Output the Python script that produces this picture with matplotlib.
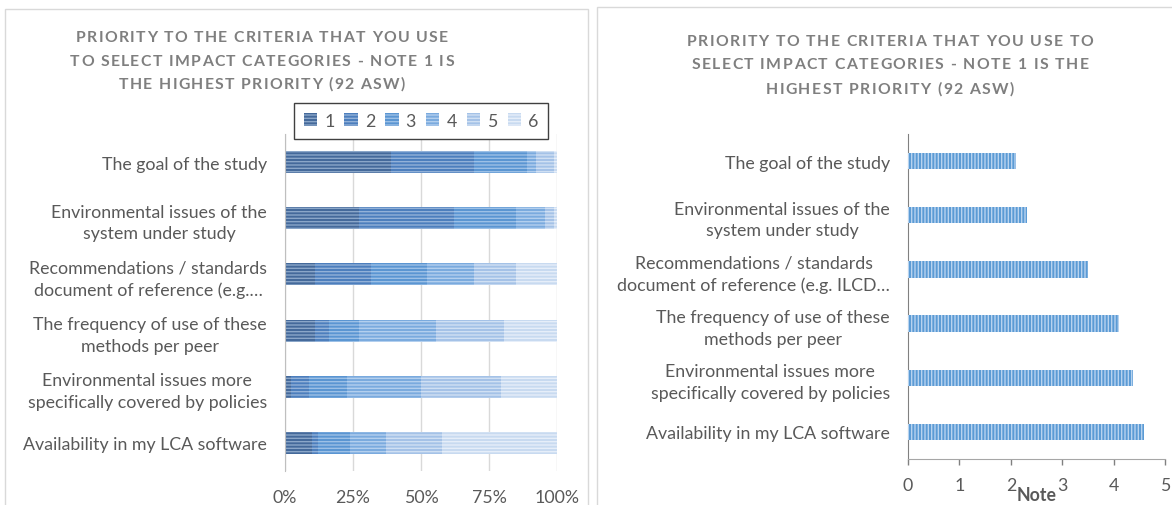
import matplotlib
matplotlib.use("Agg")
import matplotlib.pyplot as plt
from matplotlib.patches import Rectangle, Patch
from matplotlib.font_manager import FontProperties
import numpy as np

plt.rcParams['font.family'] = ['Lato', 'DejaVu Sans']
plt.rcParams['hatch.linewidth'] = 1.0

# ---------------- data ----------------
title_left = ["PRIORITY TO THE CRITERIA THAT YOU USE",
              "TO SELECT IMPACT CATEGORIES - NOTE 1 IS",
              "THE HIGHEST PRIORITY (92 ASW)"]
title_right = ["PRIORITY TO THE CRITERIA THAT YOU USE TO",
               "SELECT IMPACT CATEGORIES - NOTE 1 IS THE",
               "HIGHEST PRIORITY (92 ASW)"]

categories_left = ["The goal of the study",
                   "Environmental issues of the\nsystem under study",
                   "Recommendations / standards\ndocument of reference (e.g.…",
                   "The frequency of use of these\nmethods per peer",
                   "Environmental issues more\nspecifically covered by policies",
                   "Availability in my LCA software"]
categories_right = ["The goal of the study",
                    "Environmental issues of the\nsystem under study",
                    "Recommendations / standards\ndocument of reference (e.g. ILCD…",
                    "The frequency of use of these\nmethods per peer",
                    "Environmental issues more\nspecifically covered by policies",
                    "Availability in my LCA software"]

priority_labels = ["1", "2", "3", "4", "5", "6"]
# number of answers per priority note (out of 92), one list per note
note1 = [36, 25, 10, 10, 2, 9]
note2 = [28, 32, 19, 5, 6, 2]
note3 = [18, 21, 19, 10, 13, 11]
note4 = [3, 10, 16, 26, 25, 12]
note5 = [6, 3, 14, 23, 27, 19]
note6 = [1, 1, 14, 18, 19, 39]

mean_note = [2.11, 2.32, 3.51, 4.10, 4.37, 4.60]

pct_ticks = [0, 25, 50, 75, 100]
pct_tick_labels = ["0%", "25%", "50%", "75%", "100%"]
note_ticks = [0, 1, 2, 3, 4, 5]
xlabel_right = "Note"

# ---------------- styling ----------------
W, H = 1172, 506
fig = plt.figure(figsize=(W / 100, H / 100), dpi=100)

def fx(px):
    return px / W

def fy(py):
    return 1 - py / H

face_cols = ['#44699a', '#4c7ebd', '#5a95d2', '#7aaade', '#a4c2e7', '#c8daf0']
hatch_cols = ['#8aa6c8', '#92b1d8', '#9cc0e6', '#b3cfee', '#d0e0f3', '#e6eef9']
text_col = '#595959'
title_col = '#7f7f7f'
lab_size = 12.8

# panel borders
fig.patches.append(Rectangle((fx(5), fy(515)), fx(583), (515 - 10) / H,
                             transform=fig.transFigure, fill=False,
                             edgecolor='#d9d9d9', lw=1))
fig.patches.append(Rectangle((fx(597), fy(515)), fx(600), (515 - 8) / H,
                             transform=fig.transFigure, fill=False,
                             edgecolor='#d9d9d9', lw=1))

# ---------------- left: 100% stacked bars ----------------
axL = fig.add_axes([fx(285), fy(472), fx(557 - 285), (472 - 135) / H])
notes = np.array([note1, note2, note3, note4, note5, note6], dtype=float)
totals = notes.sum(axis=0)
pcts = notes / totals * 100
ypos = np.arange(len(categories_left))
left = np.zeros(len(categories_left))
handles = []
for i in range(6):
    axL.barh(ypos, pcts[i], left=left, height=0.39, color=face_cols[i],
             edgecolor=hatch_cols[i], linewidth=0, hatch='-----', zorder=3)
    left += pcts[i]
    handles.append(Patch(facecolor=face_cols[i], edgecolor=hatch_cols[i],
                         hatch='-----', linewidth=0))
axL.set_xlim(0, 100)
axL.set_ylim(len(categories_left) - 0.5, -0.5)
axL.set_xticks(pct_ticks)
axL.set_xticklabels(pct_tick_labels)
axL.set_yticks(ypos)
axL.set_yticklabels(categories_left)
for t in axL.get_yticklabels():
    t.set_multialignment('center')
    t.set_linespacing(1.42)
axL.tick_params(axis='both', length=0, labelsize=lab_size, labelcolor=text_col)
axL.tick_params(axis='x', pad=13)
axL.tick_params(axis='y', pad=13)
axL.grid(axis='x', color='#d9d9d9', lw=1, zorder=0)
for s in ['top', 'right', 'bottom']:
    axL.spines[s].set_visible(False)
axL.spines['left'].set_color('#bfbfbf')
axL.spines['left'].set_zorder(4)

leg = fig.legend(handles, priority_labels, loc='center',
                 bbox_to_anchor=(fx(285), fy(142), fx(557 - 285), 40 / H),
                 mode='expand', ncol=6, frameon=True, fancybox=False,
                 edgecolor='#404040', framealpha=1, fontsize=lab_size,
                 handlelength=0.75, handleheight=0.75, handletextpad=0.4,
                 borderpad=0.55, columnspacing=1.0, labelcolor=text_col)
leg.get_frame().set_linewidth(1.0)

# ---------------- right: mean note bars ----------------
axR = fig.add_axes([fx(908), fy(460), fx(1165 - 908), (460 - 135) / H])
ypos_r = np.arange(len(categories_right))
axR.barh(ypos_r, mean_note, height=0.3, color='#5b9bd5', edgecolor='#b8d3ef',
         linewidth=0, hatch='|||||', zorder=3)
axR.set_xlim(0, 5)
axR.set_ylim(len(categories_right) - 0.5, -0.5)
axR.set_xticks(note_ticks)
axR.set_yticks(ypos_r)
axR.set_yticklabels(categories_right)
for t in axR.get_yticklabels():
    t.set_multialignment('center')
    t.set_linespacing(1.42)
axR.tick_params(axis='y', length=0, pad=13, labelsize=lab_size, labelcolor=text_col)
axR.tick_params(axis='x', length=4, width=1, color='#808080', direction='out',
                pad=9, labelsize=lab_size, labelcolor=text_col)
for s in ['top', 'right']:
    axR.spines[s].set_visible(False)
axR.spines['left'].set_color('#808080')
axR.spines['bottom'].set_color('#a6a6a6')
fig.text(fx(1037), fy(496), xlabel_right, ha='center', va='center',
         fontsize=lab_size, fontweight='bold', color=text_col)

# ---------------- letter-spaced titles ----------------
renderer = fig.canvas.get_renderer()
tprop = FontProperties(family=['Lato', 'DejaVu Sans'], size=11.3, weight='bold')

def char_widths(line):
    return [renderer.get_text_width_height_descent(ch, tprop, ismath=False)[0]
            for ch in line]

def spaced_text(line, cx, baseline_py, spacing):
    widths = char_widths(line)
    total = sum(widths) + spacing * (len(line) - 1)
    x = cx - total / 2
    for ch, w in zip(line, widths):
        fig.text(fx(x), fy(baseline_py), ch, ha='left', va='baseline',
                 fontproperties=tprop, color=title_col)
        x += w + spacing

# spacing chosen so that the first line spans the same width as in the reference
def spacing_for(line, target_px):
    return max(0.5, (target_px - sum(char_widths(line))) / (len(line) - 1))

spL = spacing_for(title_left[0], 372)
spR = spacing_for(title_right[0], 406)
for line, base in zip(title_left, [42, 66, 89]):
    spaced_text(line, 262, base, spL)
for line, base in zip(title_right, [46, 69, 94]):
    spaced_text(line, 890, base, spR)

fig.savefig("out.png", dpi=100)
